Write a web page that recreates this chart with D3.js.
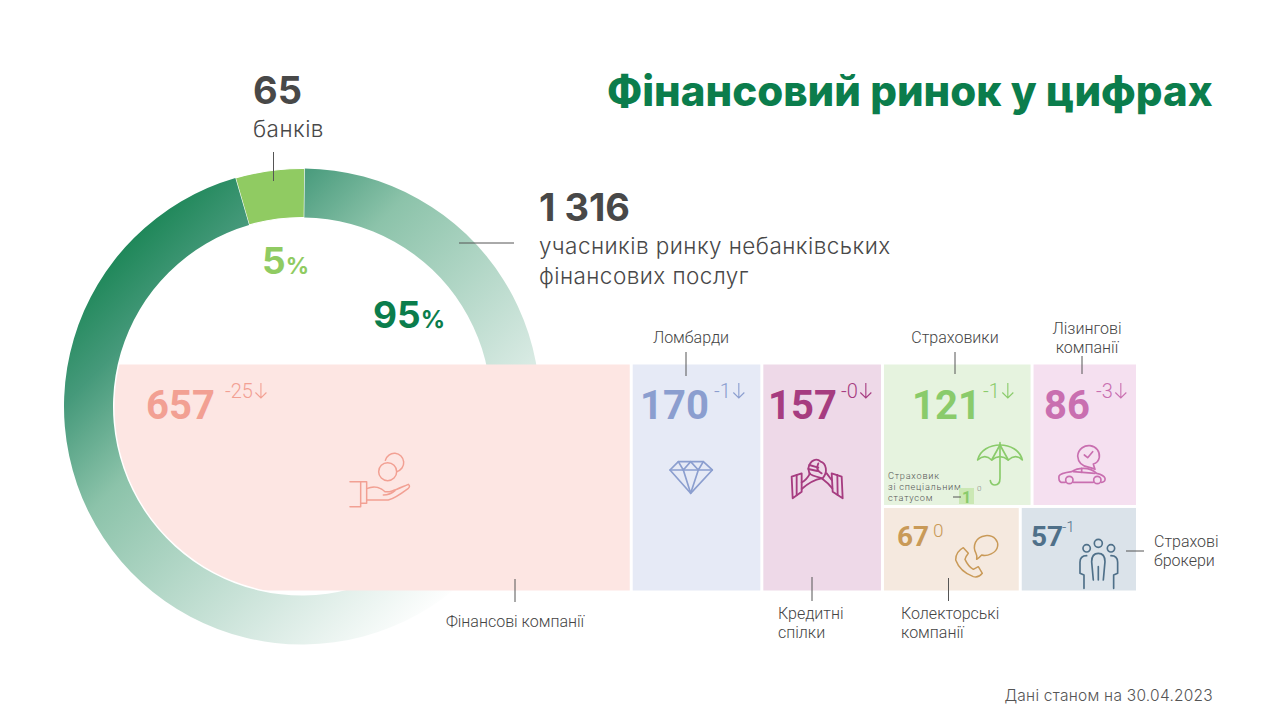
<!DOCTYPE html>
<html>
<head>
<meta charset="utf-8">
<script src="https://cdn.jsdelivr.net/npm/d3@7"></script>
<style>
html, body { margin: 0; background: #fff; }
svg { display: block; }
text { font-family: Roboto, sans-serif; }
.head { font-family: Inter, sans-serif; }
</style>
</head>
<body>
<svg id="chart" width="1280" height="720"></svg>
<script>
// market split
var marketNames = ["банків", "небанківських"];
var marketValues = [65, 1316];
var marketShares = ["5", "95"];

// non-bank participants
var categories = ["Фінансові компанії", "Ломбарди", "Кредитні спілки", "Страховики", "Лізингові компанії", "Колекторські компанії", "Страхові брокери"];
var counts = [657, 170, 157, 121, 86, 67, 57];
var changes = ["-25", "-1", "-0", "-1", "-3", "0", "-1"];
var falling = [true, true, true, true, true, false, false];
var specialInsurers = 1;
var specialChange = "0";

// colours, same order as categories
var fills = ["#fde6e3", "#e6eaf6", "#eed9e8", "#e6f3df", "#f5e0f0", "#f5e9df", "#dbe3ea"];
var inks = ["#f2a093", "#8b9ecf", "#a63c80", "#8acb6b", "#c96fb0", "#c99a58", "#4f7089"];

var svg = d3.select("#chart");
var defs = svg.append("defs");

// ring
var cx = 302, cy = 406.5, outerR = 238, innerR = 189;

// userSpaceOnUse follows the group of the ring, so the ends are relative to its centre
var grad = defs.append("linearGradient").attr("id", "ringFade")
    .attr("gradientUnits", "userSpaceOnUse")
    .attr("x1", 150 - cx).attr("y1", 190 - cy).attr("x2", 505 - cx).attr("y2", 545 - cy);
[[0, "#13824f"], [0.18, "#45997a"], [0.37, "#8cc3aa"], [0.78, "#d8eae3"], [1, "#ffffff"]].forEach(function (s) {
    grad.append("stop").attr("offset", s[0]).attr("stop-color", s[1]);
});

var bankAngle = 2 * Math.PI * marketValues[0] / d3.sum(marketValues);
var startAngle = 0.012 - bankAngle;
var pie = d3.pie().sort(null).startAngle(startAngle).endAngle(startAngle + 2 * Math.PI);
var arc = d3.arc().innerRadius(innerR).outerRadius(outerR);

svg.append("g").attr("transform", "translate(" + cx + "," + cy + ")")
    .selectAll("path").data(pie(marketValues)).join("path")
    .attr("d", arc)
    .attr("fill", function (d, i) { return i == 0 ? "#90cb62" : "url(#ringFade)"; })
    .attr("stroke", function (d, i) { return i == 0 ? "#fff" : "none"; }).attr("stroke-width", 1.2);

// treemap of the participants, insurers cell also holds the special status one
var tree = {
    children: [
        { i: 0, value: counts[0] },
        { i: 1, value: counts[1] },
        { i: 2, value: counts[2] },
        {
            children: [
                { children: [{ i: 3, value: counts[3] + specialInsurers }, { i: 4, value: counts[4] }] },
                { children: [{ i: 5, value: counts[5] }, { i: 6, value: counts[6] }] }
            ]
        }
    ]
};

var treeX = 128, treeY = 364.5;
var root = d3.hierarchy(tree).sum(function (d) { return d.value || 0; });
d3.treemap()
    .tile(d3.treemapSliceDice)
    .paddingInner(3)
    .size([1008, 226])(root);

// the first cell runs on to the left and is cut by the hole of the ring
var clip = defs.append("clipPath").attr("id", "holeClip");
clip.append("circle").attr("cx", cx).attr("cy", cy).attr("r", innerR - 1.5);
clip.append("rect").attr("x", cx).attr("y", 0).attr("width", 1280).attr("height", 720);

function cellLeft(d) { return d.data.i == 0 ? cx - innerR : treeX + d.x0; }

svg.append("g").selectAll("rect").data(root.leaves()).join("rect")
    .attr("x", cellLeft)
    .attr("y", function (d) { return treeY + d.y0; })
    .attr("width", function (d) { return treeX + d.x1 - cellLeft(d); })
    .attr("height", function (d) { return d.y1 - d.y0; })
    .attr("fill", function (d) { return fills[d.data.i]; })
    .attr("clip-path", function (d) { return d.data.i == 0 ? "url(#holeClip)" : null; });

// big numbers and changes
var numX = [146, 640, 768, 912, 1044, 897, 1031];
var numY = [419, 419, 419, 419, 419, 546, 546];
var numSize = [40, 40, 40, 40, 40, 28, 28];
var chgX = [225, 714, 841, 983, 1096, 933, 1062];
var chgY = [398, 398, 398, 398, 398, 537, 532];
var chgSize = [20, 20, 20, 20, 20, 19, 15];

counts.forEach(function (c, i) {
    svg.append("text").attr("x", numX[i]).attr("y", numY[i])
        .attr("font-size", numSize[i]).attr("font-weight", 700).attr("fill", inks[i]).text(c);
    var t = svg.append("text").attr("x", chgX[i]).attr("y", chgY[i])
        .attr("font-size", chgSize[i]).attr("font-weight", 300).attr("fill", inks[i]).text(changes[i]);
    if (falling[i]) {
        // thin arrow right after the change
        var ax = chgX[i] + t.node().getComputedTextLength() + 8;
        var ay = chgY[i];
        svg.append("path")
            .attr("d", "M" + ax + "," + (ay - 15) + "V" + ay + "M" + (ax - 5.5) + "," + (ay - 5.5) + "L" + ax + "," + ay + "L" + (ax + 5.5) + "," + (ay - 5.5))
            .attr("fill", "none").attr("stroke", inks[i]).attr("stroke-width", 1.1);
    }
});

// category labels with their leaders
var labelLines = [["Фінансові компанії"], ["Ломбарди"], ["Кредитні", "спілки"], ["Страховики"], ["Лізингові", "компанії"], ["Колекторські", "компанії"], ["Страхові", "брокери"]];
var labelX = [515, 691, 778, 955, 1087, 901, 1154];
var labelY = [627, 343, 619, 343, 334, 619, 547];
var labelAnchor = ["middle", "middle", "start", "middle", "middle", "start", "start"];
var leaders = [[515, 579, 515, 602], [686, 352, 686, 376], [812, 577, 812, 601], [955, 352, 955, 374], [1082, 356, 1082, 374], [948.5, 578, 948.5, 601], [1126, 551, 1144, 551]];

labelLines.forEach(function (lines, i) {
    var t = svg.append("text").attr("x", labelX[i]).attr("y", labelY[i])
        .attr("font-size", 16).attr("font-weight", 300).attr("fill", "#444")
        .attr("text-anchor", labelAnchor[i]);
    lines.forEach(function (line, k) {
        t.append("tspan").attr("x", labelX[i]).attr("dy", k ? 18.5 : 0).text(line);
    });
});

function leader(p, color) {
    svg.append("line").attr("x1", p[0]).attr("y1", p[1]).attr("x2", p[2]).attr("y2", p[3])
        .attr("stroke", color || "#555").attr("stroke-width", 1);
}
leaders.forEach(function (p) { leader(p); });

// special status insurers
["Страховик", "зі спеціальним", "статусом"].forEach(function (line, k) {
    svg.append("text").attr("x", 888).attr("y", 479 + k * 11)
        .attr("font-size", 9.2).attr("letter-spacing", 0.75).attr("font-weight", 300).attr("fill", "#555").text(line);
});
svg.append("rect").attr("x", 959).attr("y", 488).attr("width", 15).attr("height", 16).attr("fill", "#cbe8b4");
leader([953, 497, 961, 497]);
svg.append("text").attr("x", 966.5).attr("y", 502.5).attr("text-anchor", "middle")
    .attr("font-size", 16).attr("font-weight", 700).attr("fill", inks[3]).text(specialInsurers);
svg.append("text").attr("x", 977).attr("y", 491)
    .attr("font-size", 8).attr("font-weight", 300).attr("fill", "#888").text(specialChange);

// ring captions
function head(x, y, size, weight, color, str) {
    return svg.append("text").attr("class", "head").attr("x", x).attr("y", y)
        .attr("font-size", size).attr("font-weight", weight).attr("fill", color).text(str);
}

head(607, 106, 42, 800, "#0b7d4c", "Фінансовий ринок у цифрах");

head(253, 104, 38, 700, "#484848", marketValues[0]);
head(253, 137, 22.5, 300, "#484848", marketNames[0]).attr("letter-spacing", 0.45);
leader([273.5, 152, 273.5, 181]);

head(539, 221, 38, 700, "#484848", d3.format(",")(marketValues[1]).replace(",", " "));
head(539, 254, 22.5, 300, "#484848", "учасників ринку " + marketNames[1]).attr("letter-spacing", 0.45);
head(539, 284, 22.5, 300, "#484848", "фінансових послуг").attr("letter-spacing", 0.45);
leader([459, 243, 514, 243]);

head(262, 274, 37, 700, "#90cb62", marketShares[0]).append("tspan").attr("font-size", 23).text("%");
head(373, 328, 37, 700, "#0b7d4c", marketShares[1]).append("tspan").attr("font-size", 24).text("%");

svg.append("text").attr("class", "head").attr("x", 1213).attr("y", 701).attr("text-anchor", "end")
    .attr("font-size", 15.5).attr("letter-spacing", 0.25).attr("font-weight", 300).attr("fill", "#555").text("Дані станом на 30.04.2023");

// icons, traced at 3x so each one is scaled down on its group
function icon(x, y, color, width, paths) {
    var g = svg.append("g").attr("transform", "translate(" + x + "," + y + ") scale(0.3333)")
        .attr("fill", "none").attr("stroke", color).attr("stroke-width", width)
        .attr("stroke-linejoin", "round").attr("stroke-linecap", "round");
    paths.forEach(function (p) { g.append("path").attr("d", p); });
}

function ringPath(x, y, r) {
    return "M" + (x - r) + "," + y + "a" + r + "," + r + " 0 1,0 " + (2 * r) + ",0a" + r + "," + r + " 0 1,0 " + (-2 * r) + ",0Z";
}

icon(340, 440, inks[0], 4.5, [
    ringPath(143, 95, 27),
    "M136,61 A28,28 0 1 1 170,95",
    "M30,125 H62 V200 H30",
    "M62,125 H80 V190 H62",
    "M80,146 C105,135 125,145 135,155 C150,158 165,150 205,133 Q212,138 205,145 C185,160 165,175 145,180 H80",
    "M130,165 Q150,165 165,152"
]);

icon(620, 320, inks[1], 5, [
    "M150,450 L175,425 H250 L277,450 L212,520 Z",
    "M150,450 H277",
    "M175,425 L190,450 L212,425 L235,450 L250,425",
    "M190,450 L212,520 L235,450"
]);

icon(780, 445, inks[2], 5.5, [
    "M35,95 L65,85 V140 L38,160 Z",
    "M50,90 V150",
    "M155,85 L185,95 L188,160 L158,140 Z",
    "M172,90 L173,150",
    "M65,112 Q80,105 90,85",
    "M65,132 Q95,105 125,100 Q145,115 157,130",
    "M140,85 L155,105",
    "M85,70 C90,45 110,38 122,50 C138,55 145,80 128,100 C110,95 95,92 88,85 Z",
    "M88,60 L115,68",
    "M85,72 L112,78",
    "M115,55 Q105,75 125,85"
]);

icon(885, 440, inks[3], 5, [
    "M278,60 C285,30 315,15 345,15 C375,15 405,30 412,60 Q392,40 370,60 Q345,40 320,60 Q300,40 278,60 Z",
    "M345,15 L320,60",
    "M345,15 L370,60",
    "M345,8 V115 Q345,135 330,135 Q318,135 316,122"
]);

icon(1040, 440, inks[4], 5, [
    "M148,82 Q115,78 113,48 C115,25 135,15 150,17 C170,20 180,35 178,52 Q175,68 160,72 Q162,80 165,88 Q155,84 148,82 Z",
    "M133,45 L143,53 L158,35",
    "M76,127 H63 Q55,122 57,108 Q60,100 95,95 Q110,85 130,85 Q155,85 170,100 Q192,105 195,115 Q197,125 185,127",
    ringPath(88, 120, 11),
    ringPath(172, 120, 11),
    "M100,127 H160",
    "M100,95 L165,100",
    "M125,85 V97"
]);

icon(945, 525, inks[5], 4.5, [
    "M55,68 L70,85 Q62,95 60,103 Q70,125 85,133 L100,125 L112,145 Q100,160 85,155 Q45,140 32,105 Q32,80 55,68 Z",
    "M95,103 Q97,92 93,85 C82,65 90,35 122,32 C150,30 160,50 158,63 C155,85 125,95 110,90 Q103,98 95,103 Z"
]);

icon(945, 525, inks[6], 5, [
    ringPath(460, 55, 12),
    ringPath(425, 70, 11),
    ringPath(498, 70, 11),
    "M445,165 L440,110 Q440,85 460,85 Q480,85 480,110 L475,165",
    "M460,125 V165",
    "M425,92 Q405,92 405,112 V145 L417,150 V190",
    "M498,92 Q518,92 518,112 V145 L506,150 V190"
]);
</script>
</body>
</html>
